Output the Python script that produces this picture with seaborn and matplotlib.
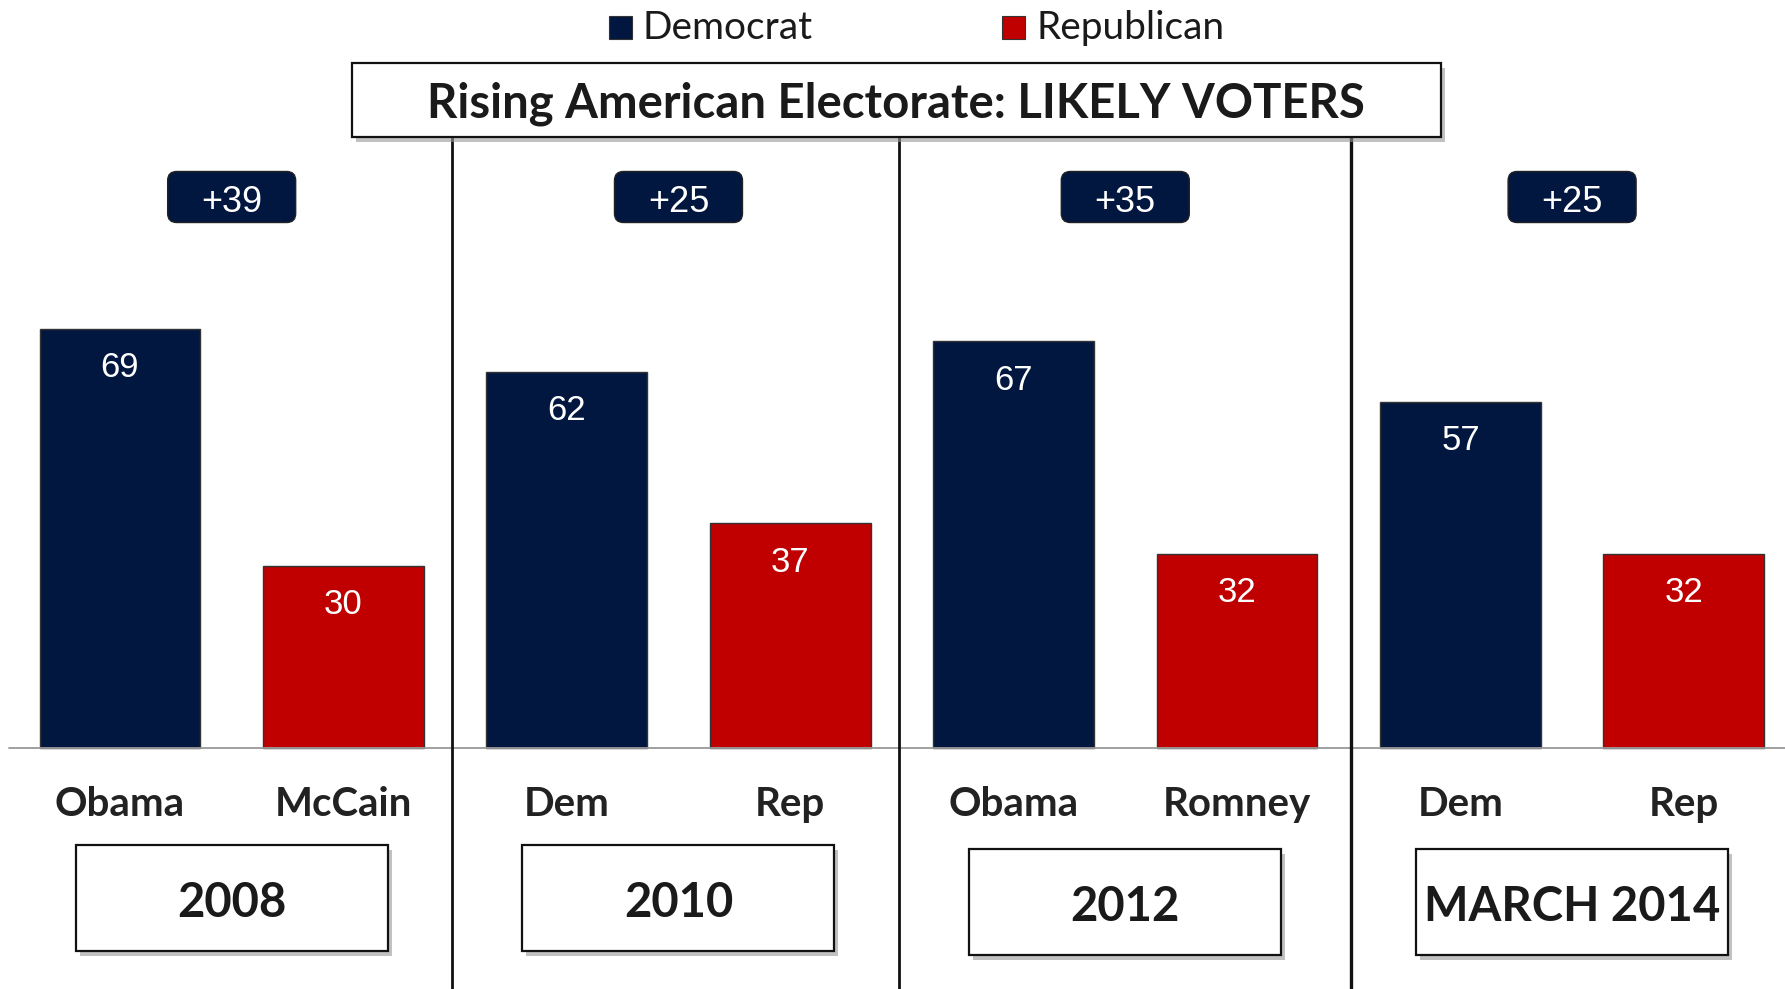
import pandas as pd
import numpy as np
import seaborn as sns
import matplotlib.pyplot as plt
from matplotlib.patches import Rectangle, FancyBboxPatch

years = ["2008", "2010", "2012", "MARCH 2014"]
dem_names = ["Obama", "Dem", "Obama", "Dem"]
rep_names = ["McCain", "Rep", "Romney", "Rep"]
dem_vals = [69, 62, 67, 57]
rep_vals = [30, 37, 32, 32]

NAVY = "#021740"
RED = "#C00000"

rows = []
for i, yr in enumerate(years):
    rows.append({"key": yr + " D", "name": dem_names[i], "party": "Democrat", "value": dem_vals[i]})
    rows.append({"key": yr + " R", "name": rep_names[i], "party": "Republican", "value": rep_vals[i]})
df = pd.DataFrame(rows)

sns.set_style("white")
plt.rcParams['font.family'] = ['Lato', 'DejaVu Sans']

fig = plt.figure(figsize=(17.85, 9.89), dpi=100)
ax = fig.add_axes([0, 0, 1, 1])
sns.barplot(data=df, x="key", y="value", hue="party", dodge=False, saturation=1,
            palette={"Democrat": NAVY, "Republican": RED}, width=0.72,
            edgecolor="#333333", linewidth=1, legend=False, ax=ax)
ax.set_xlim(-0.537, 7.453)
ax.set_ylim(-39.7, 123.2)
ax.axis("off")
ax.axhline(0, xmin=9 / 1785, xmax=1, color="#999999", lw=1.3, zorder=1)

# value labels and candidate names
for i, r in df.iterrows():
    ax.annotate(str(r["value"]), (i, r["value"]), xytext=(0, -28), textcoords="offset points",
                ha="center", va="center", color="white", fontsize=25,
                family="Liberation Sans")
    ax.text(i, -9.3, r["name"], ha="center", va="center", fontsize=29,
            fontweight="bold", color="#222222")

fig.canvas.draw()

# overlay in pixel units (y down)
ov = fig.add_axes([0, 0, 1, 1], zorder=5)
ov.set_xlim(0, 1785)
ov.set_ylim(989, 0)
ov.axis("off")
ov.patch.set_alpha(0)


def px(x):
    return ax.transData.transform((x, 0))[0]


def shadow_box(x0, y0, w, h, lw=1.6):
    ov.add_patch(Rectangle((x0 + 4, y0 + 5), w, h, facecolor="#999999", alpha=0.6,
                           edgecolor="none", zorder=2))
    ov.add_patch(Rectangle((x0, y0), w, h, facecolor="white", edgecolor="#111111",
                           lw=lw, zorder=3))


# separators between groups
for k in range(1, len(years)):
    xs = px(2 * k - 0.515) if k < 3 else px(2 * k - 0.49)
    ov.plot([xs, xs], [137, 989], color="#111111", lw=2.0 if k < 3 else 2.4, zorder=1)

# title box
shadow_box(352, 63, 1089, 74)
ov.text(896, 104, "Rising American Electorate: LIKELY VOTERS", ha="center", va="center",
        fontsize=34, fontweight="bold", color="#1a1a1a", zorder=4)

# legend
for x0, lab, col in [(609, "Democrat", NAVY), (1002, "Republican", RED)]:
    ov.add_patch(Rectangle((x0, 16), 23, 23, facecolor=col, edgecolor="#333333", lw=0.8))
    ov.text(x0 + 34, 28, lab, ha="left", va="center", fontsize=28, color="#1a1a1a")

# margin badges and year boxes
for g, yr in enumerate(years):
    cx = px(2 * g + 0.5)
    margin = dem_vals[g] - rep_vals[g]
    ov.add_patch(FancyBboxPatch((cx - 64, 171.5), 128, 51,
                                boxstyle="round,pad=0,rounding_size=9",
                                facecolor=NAVY, edgecolor="#222222", lw=1, zorder=3))
    ov.text(cx, 202, "+%d" % margin, ha="center", va="center", color="white",
            fontsize=26, family="Liberation Sans", zorder=4)
    y0 = 845 if g < 2 else 849
    shadow_box(cx - 156, y0, 312, 106)
    ov.text(cx, y0 + 58, yr, ha="center", va="center", fontsize=34, fontweight="bold",
            color="#1a1a1a", zorder=4)

fig.savefig("out.png", dpi=100)
